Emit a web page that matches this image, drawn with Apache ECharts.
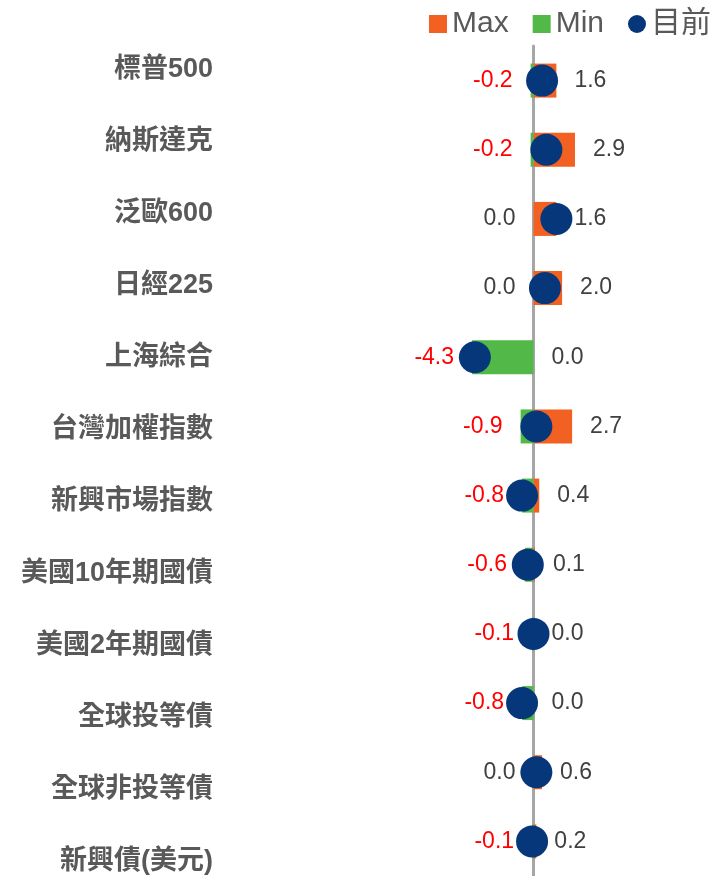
<!DOCTYPE html>
<html>
<head>
<meta charset="utf-8">
<script src="https://cdn.jsdelivr.net/npm/echarts@6/dist/echarts.min.js"></script>
<style>
  html, body { margin: 0; padding: 0; background: #fff; }
  #chart { width: 720px; height: 876px; }
</style>
</head>
<body>
<div id="chart"></div>
<script>
const categories = ['標普500', '納斯達克', '泛歐600', '日經225', '上海綜合', '台灣加權指數',
  '新興市場指數', '美國10年期國債', '美國2年期國債', '全球投等債', '全球非投等債', '新興債(美元)']
const maxValues = [1.6, 2.9, 1.6, 2.0, 0.0, 2.7, 0.4, 0.1, 0.0, 0.0, 0.6, 0.2]
const minValues = [-0.2, -0.2, 0.0, 0.0, -4.3, -0.9, -0.8, -0.6, -0.1, -0.8, 0.0, -0.1]
const currentValues = [0.6, 0.9, 1.6, 0.8, -4.1, 0.2, -0.8, -0.4, 0.0, -0.8, 0.2, -0.1]

const numFont = '"Liberation Sans", Arial, sans-serif'
const cjkFont = '"Liberation Sans", "Noto Sans CJK TC", sans-serif'

function fmt (v) {
  const s = Math.abs(v) < 1e-9 ? '0.0' : v.toFixed(1)
  return v < 0 ? '{neg|' + s + '}' : '{pos|' + s + '}'
}

const labelRich = {
  neg: { color: '#FF0000', fontSize: 23, fontFamily: numFont },
  pos: { color: '#404040', fontSize: 23, fontFamily: numFont }
}

const myChart = echarts.init(document.getElementById('chart'))
const option = {
  animation: false,
  legend: {
    right: 4,
    top: 4,
    itemWidth: 18,
    itemHeight: 18,
    itemGap: 24,
    textStyle: { fontSize: 30, color: '#595959', fontFamily: cjkFont },
    data: [
      { name: 'Max', icon: 'rect' },
      { name: 'Min', icon: 'rect' },
      { name: '目前', icon: 'circle' }
    ]
  },
  grid: [
    { left: 462, width: 143, top: 46, bottom: 0 },
    // category names sit on their own, slightly wider spaced axis
    { left: 220, right: 200, top: 70, height: 792 }
  ],
  xAxis: [
    { type: 'value', gridIndex: 0, min: -5, max: 5, show: false },
    { type: 'value', gridIndex: 1, min: 0, max: 1, show: false }
  ],
  yAxis: [
    {
      type: 'category',
      gridIndex: 0,
      inverse: true,
      data: categories,
      axisLine: { onZero: true, lineStyle: { color: '#A6A6A6', width: 3 } },
      axisTick: { show: false },
      axisLabel: { show: false },
      splitLine: { show: false }
    },
    {
      type: 'category',
      gridIndex: 1,
      inverse: true,
      boundaryGap: false,
      data: categories,
      axisLine: { show: false },
      axisTick: { show: false },
      splitLine: { show: false },
      axisLabel: {
        margin: 7,
        fontSize: 27,
        fontWeight: 'bold',
        color: '#595959',
        fontFamily: cjkFont
      }
    }
  ],
  series: [
    {
      name: 'Max',
      type: 'bar',
      xAxisIndex: 0,
      yAxisIndex: 0,
      barWidth: 34,
      barGap: '-100%',
      itemStyle: { color: '#F26122' },
      label: {
        show: true,
        position: 'right',
        distance: 18,
        formatter: p => fmt(p.value),
        rich: labelRich
      },
      data: maxValues
    },
    {
      name: 'Min',
      type: 'bar',
      xAxisIndex: 0,
      yAxisIndex: 0,
      barWidth: 34,
      barGap: '-100%',
      itemStyle: { color: '#52B848' },
      label: {
        show: true,
        position: 'left',
        distance: 18,
        formatter: p => fmt(p.value),
        rich: labelRich
      },
      data: minValues
    },
    {
      name: '目前',
      type: 'scatter',
      xAxisIndex: 0,
      yAxisIndex: 0,
      symbolSize: 32,
      z: 5,
      itemStyle: { color: '#07377B', opacity: 1 },
      data: currentValues.map((v, i) => [v, i])
    }
  ]
}
myChart.setOption(option)
</script>
</body>
</html>
